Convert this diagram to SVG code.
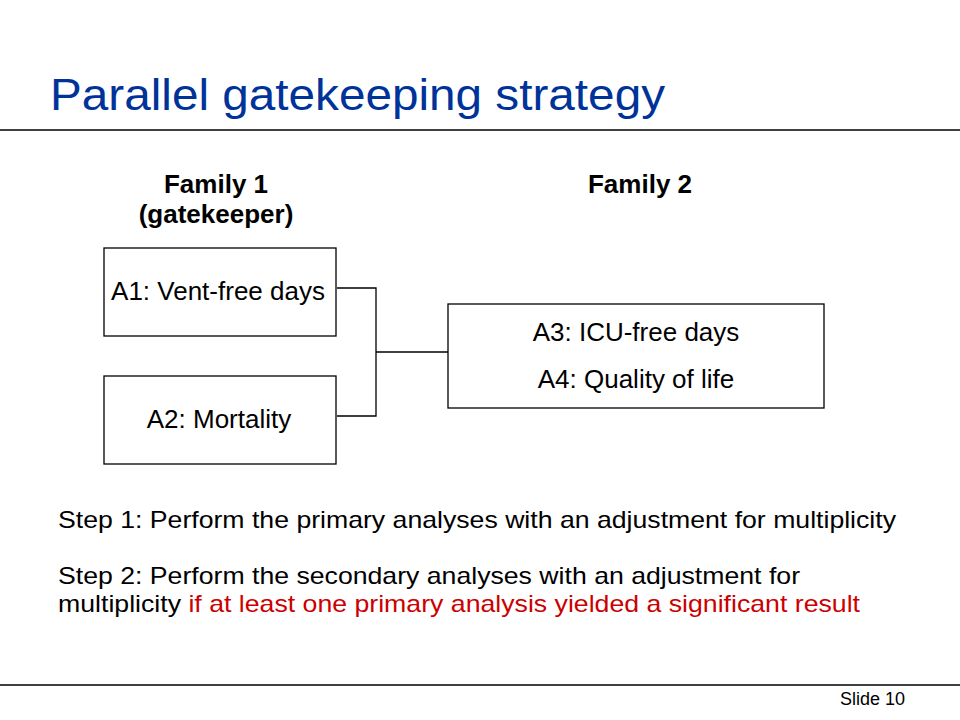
<svg xmlns="http://www.w3.org/2000/svg" width="960" height="720" viewBox="0 0 960 720">
<style>
text{font-family:"Liberation Sans",Arial,sans-serif;fill:#000}
.title{font-size:45px;fill:#003399}
.hd{font-size:26px;font-weight:bold;text-anchor:middle}
.lb{font-size:26px;text-anchor:middle}
.body{font-size:24px}
.red{fill:#CC0000}
.box{fill:#fff;stroke:#000;stroke-width:1.3}
.rule{stroke:#000;stroke-width:1.3}
.conn{fill:none;stroke:#000;stroke-width:1.3}
</style>
<rect width="960" height="720" fill="#fff"/>
<text class="title" x="50" y="110" textLength="615" lengthAdjust="spacingAndGlyphs">Parallel gatekeeping strategy</text>
<line class="rule" x1="0" y1="130" x2="960" y2="130"/>
<text class="hd" x="216" y="193">Family 1</text>
<text class="hd" x="216" y="223">(gatekeeper)</text>
<text class="hd" x="640" y="193">Family 2</text>
<g id="connectors">
<polyline class="conn" points="337,288 376,288 376,416 337,416"/>
<line class="conn" x1="376" y1="352" x2="448" y2="352"/>
</g>
<g id="a1">
<rect class="box" x="104" y="248" width="232" height="88"/>
<text class="lb" x="218" y="300">A1: Vent-free days</text>
</g>
<g id="a2">
<rect class="box" x="104" y="376" width="232" height="88"/>
<text class="lb" x="219" y="428">A2: Mortality</text>
</g>
<g id="a34">
<rect class="box" x="448" y="304" width="376" height="104"/>
<text class="lb" x="636" y="341">A3: ICU-free days</text>
<text class="lb" x="636" y="388">A4: Quality of life</text>
</g>
<text class="body" x="58" y="528" textLength="838" lengthAdjust="spacingAndGlyphs">Step 1: Perform the primary analyses with an adjustment for multiplicity</text>
<text class="body" x="58" y="584" textLength="742" lengthAdjust="spacingAndGlyphs">Step 2: Perform the secondary analyses with an adjustment for</text>
<text class="body" x="58" y="612" textLength="802" lengthAdjust="spacingAndGlyphs">multiplicity <tspan class="red">if at least one primary analysis yielded a significant result</tspan></text>
<line class="rule" x1="0" y1="685" x2="960" y2="685"/>
<text x="840" y="705" font-size="18">Slide 10</text>
</svg>
